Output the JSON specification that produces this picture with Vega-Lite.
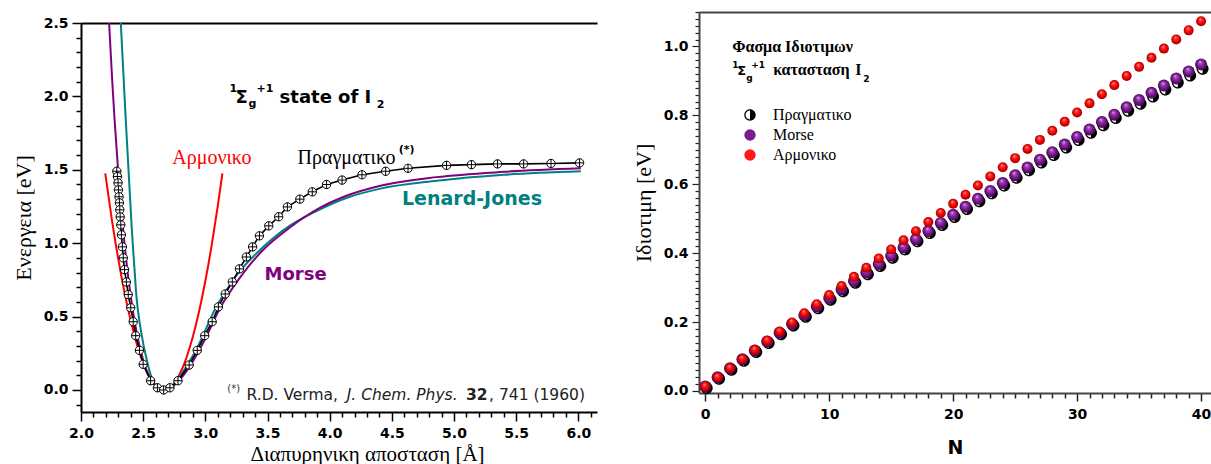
{
  "$schema": "https://vega.github.io/schema/vega-lite/v6.json",
  "background": "white",
  "padding": {"left": 12, "top": 5, "right": 0, "bottom": 0},
  "spacing": 35,
  "datasets": {
    "real": [
      {"x": 2.288, "y": 1.49}, {"x": 2.293, "y": 1.454}, {"x": 2.298, "y": 1.411}, {"x": 2.301, "y": 1.363},
      {"x": 2.306, "y": 1.316}, {"x": 2.309, "y": 1.275}, {"x": 2.312, "y": 1.227}, {"x": 2.315, "y": 1.179},
      {"x": 2.32, "y": 1.125}, {"x": 2.325, "y": 1.057}, {"x": 2.333, "y": 0.975}, {"x": 2.34, "y": 0.9},
      {"x": 2.35, "y": 0.82}, {"x": 2.365, "y": 0.736}, {"x": 2.38, "y": 0.65}, {"x": 2.4, "y": 0.56},
      {"x": 2.42, "y": 0.465}, {"x": 2.44, "y": 0.37}, {"x": 2.47, "y": 0.27}, {"x": 2.5, "y": 0.175},
      {"x": 2.56, "y": 0.063}, {"x": 2.615, "y": 0.015}, {"x": 2.665, "y": 0.0}, {"x": 2.715, "y": 0.015},
      {"x": 2.78, "y": 0.063}, {"x": 2.87, "y": 0.17}, {"x": 2.935, "y": 0.27}, {"x": 2.995, "y": 0.37},
      {"x": 3.055, "y": 0.465}, {"x": 3.105, "y": 0.566}, {"x": 3.16, "y": 0.654}, {"x": 3.217, "y": 0.736},
      {"x": 3.274, "y": 0.825}, {"x": 3.33, "y": 0.906}, {"x": 3.38, "y": 0.975}, {"x": 3.435, "y": 1.05},
      {"x": 3.51, "y": 1.118}, {"x": 3.59, "y": 1.18}, {"x": 3.66, "y": 1.247}, {"x": 3.76, "y": 1.3},
      {"x": 3.86, "y": 1.35}, {"x": 3.975, "y": 1.4}, {"x": 4.1, "y": 1.43}, {"x": 4.26, "y": 1.466},
      {"x": 4.45, "y": 1.49}, {"x": 4.63, "y": 1.51}, {"x": 4.94, "y": 1.53}, {"x": 5.14, "y": 1.535},
      {"x": 5.35, "y": 1.54}, {"x": 5.56, "y": 1.54}, {"x": 5.78, "y": 1.543}, {"x": 6.01, "y": 1.547}
    ],
    "morse": [
      {"x": 2.226, "y": 2.5}, {"x": 2.25, "y": 2.123}, {"x": 2.27, "y": 1.843}, {"x": 2.3, "y": 1.479},
      {"x": 2.35, "y": 0.995}, {"x": 2.4, "y": 0.637}, {"x": 2.45, "y": 0.38}, {"x": 2.5, "y": 0.203},
      {"x": 2.55, "y": 0.09}, {"x": 2.6, "y": 0.027}, {"x": 2.666, "y": 0.0}, {"x": 2.75, "y": 0.032},
      {"x": 2.85, "y": 0.13}, {"x": 2.952, "y": 0.273}, {"x": 3.0, "y": 0.35}, {"x": 3.113, "y": 0.55},
      {"x": 3.274, "y": 0.76}, {"x": 3.46, "y": 0.95}, {"x": 3.677, "y": 1.105}, {"x": 3.92, "y": 1.24},
      {"x": 4.14, "y": 1.325}, {"x": 4.4, "y": 1.39}, {"x": 4.86, "y": 1.45}, {"x": 5.4, "y": 1.486},
      {"x": 6.02, "y": 1.51}
    ],
    "lj": [
      {"x": 2.32, "y": 2.5}, {"x": 2.36, "y": 1.84}, {"x": 2.39, "y": 1.38}, {"x": 2.409, "y": 1.09},
      {"x": 2.427, "y": 0.864}, {"x": 2.446, "y": 0.636}, {"x": 2.481, "y": 0.409}, {"x": 2.535, "y": 0.182},
      {"x": 2.575, "y": 0.068}, {"x": 2.62, "y": 0.015}, {"x": 2.666, "y": 0.0}, {"x": 2.75, "y": 0.0435},
      {"x": 2.85, "y": 0.164}, {"x": 2.93, "y": 0.28}, {"x": 3.09, "y": 0.57}, {"x": 3.25, "y": 0.78},
      {"x": 3.46, "y": 0.97}, {"x": 3.68, "y": 1.12}, {"x": 3.86, "y": 1.205}, {"x": 4.14, "y": 1.31},
      {"x": 4.4, "y": 1.37}, {"x": 4.86, "y": 1.425}, {"x": 5.4, "y": 1.466}, {"x": 6.02, "y": 1.49}
    ],
    "harm": [
      {"x": 2.195, "y": 1.475}, {"x": 2.25, "y": 1.151}, {"x": 2.3, "y": 0.891}, {"x": 2.35, "y": 0.664},
      {"x": 2.4, "y": 0.471}, {"x": 2.45, "y": 0.31}, {"x": 2.5, "y": 0.183}, {"x": 2.55, "y": 0.0895},
      {"x": 2.6, "y": 0.029}, {"x": 2.666, "y": 0.0}, {"x": 2.73, "y": 0.027}, {"x": 2.8, "y": 0.119},
      {"x": 2.85, "y": 0.225}, {"x": 2.9, "y": 0.364}, {"x": 2.95, "y": 0.536}, {"x": 3.0, "y": 0.742},
      {"x": 3.05, "y": 0.981}, {"x": 3.1, "y": 1.253}, {"x": 3.137, "y": 1.475}
    ],
    "levels": [
      {"N": 0, "s": "Πραγματικο", "E": 0.01323}, {"N": 0, "s": "Morse", "E": 0.01323}, {"N": 0, "s": "Αρμονικο", "E": 0.01325},
      {"N": 1, "s": "Πραγματικο", "E": 0.03957}, {"N": 1, "s": "Morse", "E": 0.03958}, {"N": 1, "s": "Αρμονικο", "E": 0.03975},
      {"N": 2, "s": "Πραγματικο", "E": 0.06575}, {"N": 2, "s": "Morse", "E": 0.06577}, {"N": 2, "s": "Αρμονικο", "E": 0.06625},
      {"N": 3, "s": "Πραγματικο", "E": 0.09177}, {"N": 3, "s": "Morse", "E": 0.09181}, {"N": 3, "s": "Αρμονικο", "E": 0.09275},
      {"N": 4, "s": "Πραγματικο", "E": 0.11762}, {"N": 4, "s": "Morse", "E": 0.1177}, {"N": 4, "s": "Αρμονικο", "E": 0.11925},
      {"N": 5, "s": "Πραγματικο", "E": 0.14331}, {"N": 5, "s": "Morse", "E": 0.14344}, {"N": 5, "s": "Αρμονικο", "E": 0.14575},
      {"N": 6, "s": "Πραγματικο", "E": 0.16884}, {"N": 6, "s": "Morse", "E": 0.16902}, {"N": 6, "s": "Αρμονικο", "E": 0.17225},
      {"N": 7, "s": "Πραγματικο", "E": 0.19421}, {"N": 7, "s": "Morse", "E": 0.19445}, {"N": 7, "s": "Αρμονικο", "E": 0.19875},
      {"N": 8, "s": "Πραγματικο", "E": 0.21941}, {"N": 8, "s": "Morse", "E": 0.21973}, {"N": 8, "s": "Αρμονικο", "E": 0.22525},
      {"N": 9, "s": "Πραγματικο", "E": 0.24445}, {"N": 9, "s": "Morse", "E": 0.24486}, {"N": 9, "s": "Αρμονικο", "E": 0.25175},
      {"N": 10, "s": "Πραγματικο", "E": 0.26933}, {"N": 10, "s": "Morse", "E": 0.26983}, {"N": 10, "s": "Αρμονικο", "E": 0.27825},
      {"N": 11, "s": "Πραγματικο", "E": 0.29404}, {"N": 11, "s": "Morse", "E": 0.29465}, {"N": 11, "s": "Αρμονικο", "E": 0.30475},
      {"N": 12, "s": "Πραγματικο", "E": 0.31859}, {"N": 12, "s": "Morse", "E": 0.31931}, {"N": 12, "s": "Αρμονικο", "E": 0.33125},
      {"N": 13, "s": "Πραγματικο", "E": 0.34298}, {"N": 13, "s": "Morse", "E": 0.34383}, {"N": 13, "s": "Αρμονικο", "E": 0.35775},
      {"N": 14, "s": "Πραγματικο", "E": 0.36721}, {"N": 14, "s": "Morse", "E": 0.36819}, {"N": 14, "s": "Αρμονικο", "E": 0.38425},
      {"N": 15, "s": "Πραγματικο", "E": 0.39127}, {"N": 15, "s": "Morse", "E": 0.3924}, {"N": 15, "s": "Αρμονικο", "E": 0.41075},
      {"N": 16, "s": "Πραγματικο", "E": 0.41517}, {"N": 16, "s": "Morse", "E": 0.41645}, {"N": 16, "s": "Αρμονικο", "E": 0.43725},
      {"N": 17, "s": "Πραγματικο", "E": 0.43891}, {"N": 17, "s": "Morse", "E": 0.44035}, {"N": 17, "s": "Αρμονικο", "E": 0.46375},
      {"N": 18, "s": "Πραγματικο", "E": 0.46248}, {"N": 18, "s": "Morse", "E": 0.4641}, {"N": 18, "s": "Αρμονικο", "E": 0.49025},
      {"N": 19, "s": "Πραγματικο", "E": 0.4859}, {"N": 19, "s": "Morse", "E": 0.4877}, {"N": 19, "s": "Αρμονικο", "E": 0.51675},
      {"N": 20, "s": "Πραγματικο", "E": 0.50914}, {"N": 20, "s": "Morse", "E": 0.51114}, {"N": 20, "s": "Αρμονικο", "E": 0.54325},
      {"N": 21, "s": "Πραγματικο", "E": 0.53223}, {"N": 21, "s": "Morse", "E": 0.53443}, {"N": 21, "s": "Αρμονικο", "E": 0.56975},
      {"N": 22, "s": "Πραγματικο", "E": 0.55515}, {"N": 22, "s": "Morse", "E": 0.55757}, {"N": 22, "s": "Αρμονικο", "E": 0.59625},
      {"N": 23, "s": "Πραγματικο", "E": 0.57791}, {"N": 23, "s": "Morse", "E": 0.58056}, {"N": 23, "s": "Αρμονικο", "E": 0.62275},
      {"N": 24, "s": "Πραγματικο", "E": 0.60051}, {"N": 24, "s": "Morse", "E": 0.60339}, {"N": 24, "s": "Αρμονικο", "E": 0.64925},
      {"N": 25, "s": "Πραγματικο", "E": 0.62295}, {"N": 25, "s": "Morse", "E": 0.62607}, {"N": 25, "s": "Αρμονικο", "E": 0.67575},
      {"N": 26, "s": "Πραγματικο", "E": 0.64522}, {"N": 26, "s": "Morse", "E": 0.6486}, {"N": 26, "s": "Αρμονικο", "E": 0.70225},
      {"N": 27, "s": "Πραγματικο", "E": 0.66732}, {"N": 27, "s": "Morse", "E": 0.67097}, {"N": 27, "s": "Αρμονικο", "E": 0.72875},
      {"N": 28, "s": "Πραγματικο", "E": 0.68927}, {"N": 28, "s": "Morse", "E": 0.69319}, {"N": 28, "s": "Αρμονικο", "E": 0.75525},
      {"N": 29, "s": "Πραγματικο", "E": 0.71106}, {"N": 29, "s": "Morse", "E": 0.71526}, {"N": 29, "s": "Αρμονικο", "E": 0.78175},
      {"N": 30, "s": "Πραγματικο", "E": 0.73268}, {"N": 30, "s": "Morse", "E": 0.73718}, {"N": 30, "s": "Αρμονικο", "E": 0.80825},
      {"N": 31, "s": "Πραγματικο", "E": 0.75414}, {"N": 31, "s": "Morse", "E": 0.75894}, {"N": 31, "s": "Αρμονικο", "E": 0.83475},
      {"N": 32, "s": "Πραγματικο", "E": 0.77543}, {"N": 32, "s": "Morse", "E": 0.78055}, {"N": 32, "s": "Αρμονικο", "E": 0.86125},
      {"N": 33, "s": "Πραγματικο", "E": 0.79656}, {"N": 33, "s": "Morse", "E": 0.80201}, {"N": 33, "s": "Αρμονικο", "E": 0.88775},
      {"N": 34, "s": "Πραγματικο", "E": 0.81754}, {"N": 34, "s": "Morse", "E": 0.82332}, {"N": 34, "s": "Αρμονικο", "E": 0.91425},
      {"N": 35, "s": "Πραγματικο", "E": 0.83834}, {"N": 35, "s": "Morse", "E": 0.84447}, {"N": 35, "s": "Αρμονικο", "E": 0.94075},
      {"N": 36, "s": "Πραγματικο", "E": 0.85899}, {"N": 36, "s": "Morse", "E": 0.86547}, {"N": 36, "s": "Αρμονικο", "E": 0.96725},
      {"N": 37, "s": "Πραγματικο", "E": 0.87947}, {"N": 37, "s": "Morse", "E": 0.88631}, {"N": 37, "s": "Αρμονικο", "E": 0.99375},
      {"N": 38, "s": "Πραγματικο", "E": 0.89979}, {"N": 38, "s": "Morse", "E": 0.90701}, {"N": 38, "s": "Αρμονικο", "E": 1.02025},
      {"N": 39, "s": "Πραγματικο", "E": 0.91994}, {"N": 39, "s": "Morse", "E": 0.92755}, {"N": 39, "s": "Αρμονικο", "E": 1.04675},
      {"N": 40, "s": "Πραγματικο", "E": 0.93994}, {"N": 40, "s": "Morse", "E": 0.94794}, {"N": 40, "s": "Αρμονικο", "E": 1.07325}
    ]
  },
  "resolve": {"legend": {"shape": "independent", "fill": "independent"}},
  "hconcat": [
    {
      "width": 516,
      "height": 400,
      "encoding": {
        "x": {
          "field": "x", "type": "quantitative",
          "scale": {"domain": [2, 6.15], "nice": false, "zero": false},
          "axis": {
            "values": [2,2.1,2.2,2.3,2.4,2.5,2.6,2.7,2.8,2.9,3,3.1,3.2,3.3,3.4,3.5,3.6,3.7,3.8,3.9,4,4.1,4.2,4.3,4.4,4.5,4.6,4.7,4.8,4.9,5,5.1,5.2,5.3,5.4,5.5,5.6,5.7,5.8,5.9,6,6.1],
            "labelExpr": "abs(datum.value*2 - round(datum.value*2)) < 0.001 ? format(datum.value, '.1f') : ''",
            "tickSize": {"condition": {"test": "abs(datum.value*2 - round(datum.value*2)) < 0.001", "value": 9}, "value": 5},
            "labelFlush": false, "labelOverlap": false, "grid": false,
            "domainColor": "black", "domainWidth": 2, "tickColor": "black", "tickWidth": 1.5,
            "labelFont": "DejaVu Sans", "labelFontWeight": "bold", "labelFontSize": 14, "labelColor": "black", "labelPadding": 5,
            "title": "Διαπυρηνικη αποσταση [Å]", "titleFont": "Liberation Serif", "titleFontSize": 21,
            "titleFontWeight": "normal", "titleColor": "black", "titlePadding": 3, "titleX": 286
          }
        },
        "y": {
          "field": "y", "type": "quantitative",
          "scale": {"domain": [-0.15, 2.5], "nice": false, "zero": false, "range": [400, 11]},
          "axis": {
            "values": [-0.1,0,0.1,0.2,0.3,0.4,0.5,0.6,0.7,0.8,0.9,1,1.1,1.2,1.3,1.4,1.5,1.6,1.7,1.8,1.9,2,2.1,2.2,2.3,2.4,2.5],
            "labelExpr": "abs(datum.value*2 - round(datum.value*2)) < 0.001 ? format(datum.value, '.1f') : ''",
            "tickSize": {"condition": {"test": "abs(datum.value*2 - round(datum.value*2)) < 0.001", "value": 9}, "value": 5},
            "labelOverlap": false, "labelFlush": false,
            "grid": true, "gridColor": "black", "gridWidth": 2,
            "gridOpacity": {"condition": {"test": "datum.value > 2.49", "value": 1}, "value": 0},
            "domainColor": "black", "domainWidth": 2, "tickColor": "black", "tickWidth": 1.5,
            "labelFont": "DejaVu Sans", "labelFontWeight": "bold", "labelFontSize": 14, "labelColor": "black", "labelPadding": 4,
            "title": "Ενεργεια [eV]", "titleFont": "Liberation Serif", "titleFontSize": 22,
            "titleFontWeight": "normal", "titleColor": "black", "titlePadding": 8
          }
        }
      },
      "layer": [
        {"data": {"name": "harm"}, "mark": {"type": "line", "color": "#ff0000", "strokeWidth": 2, "interpolate": "monotone", "clip": true}},
        {"data": {"name": "lj"}, "mark": {"type": "line", "color": "#008080", "strokeWidth": 2, "interpolate": "monotone", "clip": true}},
        {"data": {"name": "morse"}, "mark": {"type": "line", "color": "#800080", "strokeWidth": 2, "interpolate": "monotone", "clip": true}},
        {"data": {"name": "real"}, "mark": {"type": "line", "color": "black", "strokeWidth": 1.6}},
        {"data": {"name": "real"}, "mark": {"type": "point", "shape": "M-1,0A1,1,0,1,1,1,0A1,1,0,1,1,-1,0Z M-1,0L1,0 M0,-1L0,1", "size": 70, "filled": true, "fill": "white", "fillOpacity": 1, "stroke": "black", "strokeWidth": 1, "opacity": 1}},
        {
          "data": {"values": [{"x": 3.242, "y": 1.956, "t": "Σ"}, {"x": 3.597, "y": 1.956, "t": "state of I"}]},
          "mark": {"type": "text", "align": "left", "baseline": "alphabetic", "font": "DejaVu Sans", "fontWeight": "bold", "fontSize": 18, "color": "black"},
          "encoding": {"text": {"field": "t"}}
        },
        {
          "data": {"values": [{"x": 3.194, "y": 2.031, "t": "1"}, {"x": 3.411, "y": 2.031, "t": "+1"}, {"x": 3.347, "y": 1.925, "t": "g"}, {"x": 4.379, "y": 1.922, "t": "2"}]},
          "mark": {"type": "text", "align": "left", "baseline": "alphabetic", "font": "DejaVu Sans", "fontWeight": "bold", "fontSize": 11, "color": "black"},
          "encoding": {"text": {"field": "t"}}
        },
        {
          "data": {"values": [{"x": 2.734, "y": 1.54, "t": "Αρμονικο"}]},
          "mark": {"type": "text", "align": "left", "baseline": "alphabetic", "font": "Liberation Serif", "fontSize": 20, "color": "#ff0000"},
          "encoding": {"text": {"field": "t"}}
        },
        {
          "data": {"values": [{"x": 3.742, "y": 1.54, "t": "Πραγματικο"}]},
          "mark": {"type": "text", "align": "left", "baseline": "alphabetic", "font": "Liberation Serif", "fontSize": 20, "color": "black"},
          "encoding": {"text": {"field": "t"}}
        },
        {
          "data": {"values": [{"x": 4.556, "y": 1.616, "t": "(*)"}]},
          "mark": {"type": "text", "align": "left", "baseline": "alphabetic", "font": "DejaVu Sans", "fontWeight": "bold", "fontSize": 11, "color": "black"},
          "encoding": {"text": {"field": "t"}}
        },
        {
          "data": {"values": [{"x": 4.581, "y": 1.261, "t": "Lenard-Jones"}]},
          "mark": {"type": "text", "align": "left", "baseline": "alphabetic", "font": "DejaVu Sans", "fontWeight": "bold", "fontSize": 19, "color": "#008080"},
          "encoding": {"text": {"field": "t"}}
        },
        {
          "data": {"values": [{"x": 3.476, "y": 0.75, "t": "Morse"}]},
          "mark": {"type": "text", "align": "left", "baseline": "alphabetic", "font": "DejaVu Sans", "fontWeight": "bold", "fontSize": 18, "color": "#800080"},
          "encoding": {"text": {"field": "t"}}
        },
        {
          "data": {"values": [{"x": 3.177, "y": -0.014, "t": "(*)"}]},
          "mark": {"type": "text", "align": "left", "baseline": "alphabetic", "font": "DejaVu Sans", "fontSize": 10, "color": "#333333"},
          "encoding": {"text": {"field": "t"}}
        },
        {
          "data": {"values": [{"x": 3.331, "y": -0.068, "t": "R.D. Verma,"}, {"x": 5.282, "y": -0.068, "t": ", 741 (1960)"}]},
          "mark": {"type": "text", "align": "left", "baseline": "alphabetic", "font": "DejaVu Sans", "fontSize": 15.5, "color": "#222222"},
          "encoding": {"text": {"field": "t"}}
        },
        {
          "data": {"values": [{"x": 4.137, "y": -0.068, "t": "J. Chem. Phys."}]},
          "mark": {"type": "text", "align": "left", "baseline": "alphabetic", "font": "DejaVu Sans", "fontStyle": "italic", "fontSize": 15.5, "color": "#222222"},
          "encoding": {"text": {"field": "t"}}
        },
        {
          "data": {"values": [{"x": 5.097, "y": -0.068, "t": "32"}]},
          "mark": {"type": "text", "align": "left", "baseline": "alphabetic", "font": "DejaVu Sans", "fontWeight": "bold", "fontSize": 15.5, "color": "#222222"},
          "encoding": {"text": {"field": "t"}}
        }
      ]
    },
    {
      "width": 512,
      "height": 381,
      "data": {"name": "levels"},
      "encoding": {
        "x": {
          "field": "N", "type": "quantitative",
          "scale": {"domain": [-0.5, 40.8], "nice": false, "zero": false},
          "axis": {
            "values": [0,1,2,3,4,5,6,7,8,9,10,11,12,13,14,15,16,17,18,19,20,21,22,23,24,25,26,27,28,29,30,31,32,33,34,35,36,37,38,39,40],
            "labelExpr": "datum.value % 10 === 0 ? format(datum.value, 'd') : ''",
            "tickSize": {"condition": {"test": "datum.value % 10 === 0", "value": 8}, "value": 5},
            "labelFlush": false, "labelOverlap": false, "grid": false,
            "domainColor": "#444444", "domainWidth": 2, "tickColor": "#222222", "tickWidth": 1.5,
            "labelFont": "DejaVu Sans", "labelFontWeight": "bold", "labelFontSize": 14, "labelColor": "black", "labelPadding": 6,
            "title": "N", "titleFont": "DejaVu Sans", "titleFontSize": 19, "titleFontWeight": "bold", "titleColor": "black", "titlePadding": 17
          }
        },
        "y": {
          "field": "E", "type": "quantitative",
          "scale": {"domain": [-0.006, 1.1], "nice": false, "zero": false},
          "axis": {
            "values": [0,0.02,0.04,0.06,0.08,0.1,0.12,0.14,0.16,0.18,0.2,0.22,0.24,0.26,0.28,0.3,0.32,0.34,0.36,0.38,0.4,0.42,0.44,0.46,0.48,0.5,0.52,0.54,0.56,0.58,0.6,0.62,0.64,0.66,0.68,0.7,0.72,0.74,0.76,0.78,0.8,0.82,0.84,0.86,0.88,0.9,0.92,0.94,0.96,0.98,1,1.02,1.04,1.06,1.08,1.1],
            "labelExpr": "abs(datum.value*5 - round(datum.value*5)) < 0.001 ? format(datum.value, '.1f') : ''",
            "tickSize": {"condition": {"test": "abs(datum.value*5 - round(datum.value*5)) < 0.001", "value": 7}, "value": 4},
            "labelOverlap": false, "labelFlush": false,
            "grid": true, "gridColor": "#444444", "gridWidth": 2,
            "gridOpacity": {"condition": {"test": "datum.value > 1.09", "value": 1}, "value": 0},
            "domainColor": "#444444", "domainWidth": 2, "tickColor": "#222222", "tickWidth": 1.2,
            "labelFont": "DejaVu Sans", "labelFontWeight": "bold", "labelFontSize": 14, "labelColor": "black", "labelPadding": 4,
            "title": "Ιδιοτιμη [eV]", "titleFont": "Liberation Serif", "titleFontSize": 22,
            "titleFontWeight": "normal", "titleColor": "black", "titlePadding": 8
          }
        }
      },
      "layer": [
        {
          "transform": [{"filter": "datum.s === 'Πραγματικο'"}],
          "mark": {"type": "point", "filled": true, "size": 144, "strokeWidth": 0, "opacity": 1, "xOffset": 1.5, "yOffset": 1.5},
          "encoding": {
            "fill": {
              "condition": {
                "test": "datum.N < -100",
                "field": "s", "type": "nominal",
                "scale": {"domain": ["Πραγματικο", "Morse", "Αρμονικο"], "range": ["black", "#7a1a8e", "#ff1a1a"]},
                "legend": {
                  "title": null, "orient": "none", "legendX": 43, "legendY": 95, "padding": 0,
                  "rowPadding": 4, "symbolSize": 130, "labelOffset": 15, "symbolStrokeWidth": 0,
                  "labelFont": "Liberation Serif", "labelFontSize": 16, "labelColor": "black"
                }
              },
              "value": "black"
            },
            "shape": {
              "field": "s", "type": "nominal",
              "scale": {"domain": ["Πραγματικο", "Morse", "Αρμονικο"], "range": ["M0,-1A1,1,0,1,1,0,1A1,1,0,1,1,0,-1Z M0,-0.78A0.78,0.78,0,1,0,0,0.78A0.78,0.78,0,1,0,0,-0.78Z M0,-0.78A0.78,0.78,0,0,1,0,0.78Z", "circle", "circle"]},
              "legend": {
                "title": null, "orient": "none", "legendX": 43, "legendY": 95, "padding": 0,
                "rowPadding": 4, "symbolSize": 130, "labelOffset": 15, "symbolStrokeWidth": 0,
                "labelFont": "Liberation Serif", "labelFontSize": 16, "labelColor": "black"
              }
            }
          }
        },
        {
          "transform": [{"filter": "datum.s === 'Morse'"}],
          "mark": {"type": "point", "filled": true, "size": 144, "strokeWidth": 0, "opacity": 1},
          "encoding": {
            "fill": {
              "condition": {
                "test": "datum.N < -100",
                "field": "s", "type": "nominal",
                "scale": {"domain": ["Πραγματικο", "Morse", "Αρμονικο"], "range": ["black", "#7a1a8e", "#ff1a1a"]},
                "legend": {
                  "title": null, "orient": "none", "legendX": 43, "legendY": 95, "padding": 0,
                  "rowPadding": 4, "symbolSize": 130, "labelOffset": 15, "symbolStrokeWidth": 0,
                  "labelFont": "Liberation Serif", "labelFontSize": 16, "labelColor": "black"
                }
              },
              "value": {"gradient": "radial", "x1": 0.42, "y1": 0.3, "r1": 0, "x2": 0.5, "y2": 0.5, "r2": 0.55, "stops": [{"offset": 0, "color": "#f2dcf7"}, {"offset": 0.2, "color": "#a44cc0"}, {"offset": 0.55, "color": "#7a1a8e"}, {"offset": 1, "color": "#2e0538"}]}
            },
            "shape": {
              "field": "s", "type": "nominal",
              "scale": {"domain": ["Πραγματικο", "Morse", "Αρμονικο"], "range": ["M0,-1A1,1,0,1,1,0,1A1,1,0,1,1,0,-1Z M0,-0.78A0.78,0.78,0,1,0,0,0.78A0.78,0.78,0,1,0,0,-0.78Z M0,-0.78A0.78,0.78,0,0,1,0,0.78Z", "circle", "circle"]},
              "legend": {
                "title": null, "orient": "none", "legendX": 43, "legendY": 95, "padding": 0,
                "rowPadding": 4, "symbolSize": 130, "labelOffset": 15, "symbolStrokeWidth": 0,
                "labelFont": "Liberation Serif", "labelFontSize": 16, "labelColor": "black"
              }
            }
          }
        },
        {
          "transform": [{"filter": "datum.s === 'Αρμονικο'"}],
          "mark": {"type": "point", "filled": true, "size": 100, "strokeWidth": 0, "opacity": 1},
          "encoding": {
            "fill": {
              "condition": {
                "test": "datum.N < -100",
                "field": "s", "type": "nominal",
                "scale": {"domain": ["Πραγματικο", "Morse", "Αρμονικο"], "range": ["black", "#7a1a8e", "#ff1a1a"]},
                "legend": {
                  "title": null, "orient": "none", "legendX": 43, "legendY": 95, "padding": 0,
                  "rowPadding": 4, "symbolSize": 130, "labelOffset": 15, "symbolStrokeWidth": 0,
                  "labelFont": "Liberation Serif", "labelFontSize": 16, "labelColor": "black"
                }
              },
              "value": {"gradient": "radial", "x1": 0.42, "y1": 0.3, "r1": 0, "x2": 0.5, "y2": 0.5, "r2": 0.55, "stops": [{"offset": 0, "color": "#ffe2e2"}, {"offset": 0.22, "color": "#ff3a3a"}, {"offset": 0.6, "color": "#f00000"}, {"offset": 1, "color": "#8a0000"}]}
            },
            "shape": {
              "field": "s", "type": "nominal",
              "scale": {"domain": ["Πραγματικο", "Morse", "Αρμονικο"], "range": ["M0,-1A1,1,0,1,1,0,1A1,1,0,1,1,0,-1Z M0,-0.78A0.78,0.78,0,1,0,0,0.78A0.78,0.78,0,1,0,0,-0.78Z M0,-0.78A0.78,0.78,0,0,1,0,0.78Z", "circle", "circle"]},
              "legend": {
                "title": null, "orient": "none", "legendX": 43, "legendY": 95, "padding": 0,
                "rowPadding": 4, "symbolSize": 130, "labelOffset": 15, "symbolStrokeWidth": 0,
                "labelFont": "Liberation Serif", "labelFontSize": 16, "labelColor": "black"
              }
            }
          }
        },
        {
          "data": {"values": [{"N": 2.18, "E": 0.983, "t": "Φασμα Ιδιοτιμων"}]},
          "mark": {"type": "text", "align": "left", "baseline": "alphabetic", "font": "Liberation Serif", "fontWeight": "bold", "fontSize": 16, "color": "black"},
          "encoding": {"text": {"field": "t"}}
        },
        {
          "data": {"values": [{"N": 5.48, "E": 0.916, "t": "κατασταση"}, {"N": 12.1, "E": 0.916, "t": "I"}]},
          "mark": {"type": "text", "align": "left", "baseline": "alphabetic", "font": "Liberation Serif", "fontWeight": "bold", "fontSize": 16, "color": "black"},
          "encoding": {"text": {"field": "t"}}
        },
        {
          "data": {"values": [{"N": 2.58, "E": 0.916, "t": "Σ"}]},
          "mark": {"type": "text", "align": "left", "baseline": "alphabetic", "font": "DejaVu Sans", "fontWeight": "bold", "fontSize": 13, "color": "black"},
          "encoding": {"text": {"field": "t"}}
        },
        {
          "data": {"values": [{"N": 2.18, "E": 0.936, "t": "1"}, {"N": 3.71, "E": 0.936, "t": "+1"}, {"N": 3.31, "E": 0.901, "t": "g"}, {"N": 12.74, "E": 0.896, "t": "2"}]},
          "mark": {"type": "text", "align": "left", "baseline": "alphabetic", "font": "DejaVu Sans", "fontWeight": "bold", "fontSize": 9, "color": "black"},
          "encoding": {"text": {"field": "t"}}
        }
      ]
    }
  ],
  "config": {
    "view": {"stroke": null},
    "font": "DejaVu Sans"
  }
}
